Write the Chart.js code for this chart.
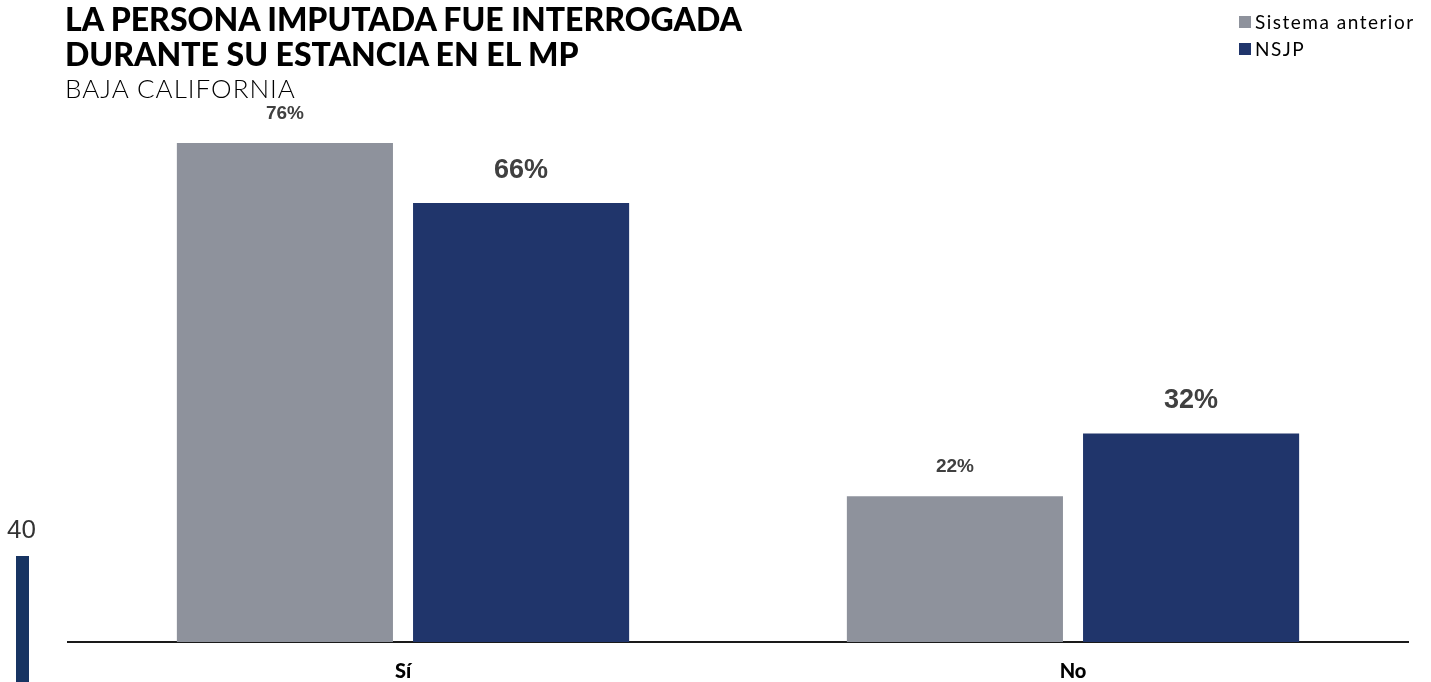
<!DOCTYPE html>
<html>
<head>
<meta charset="utf-8">
<script src="https://cdn.jsdelivr.net/npm/chart.js@4.4.1/dist/chart.umd.min.js"></script>
<style>
  html, body { margin: 0; padding: 0; background: #ffffff; }
  body { width: 1431px; height: 682px; position: relative; overflow: hidden; font-family: Lato, sans-serif; }
  #wrap { position: absolute; left: 0; top: 0; width: 1431px; height: 702px; }
  .title { position: absolute; left: 65px; top: 1px; font-family: Lato; font-weight: 900; font-size: 32px; line-height: 35px; color: #000; letter-spacing: 0px; }
  .subtitle { position: absolute; left: 65px; top: 73px; font-family: Lato; font-weight: 300; font-size: 26px; line-height: 30px; color: #000; letter-spacing: 1px; }
  .legend { position: absolute; left: 1239px; top: 8px; font-family: Lato; font-size: 19px; color: #000; }
  .legend div { height: 27px; line-height: 22px; display: flex; align-items: center; letter-spacing: 1.5px; }
  .legend span.box { display: inline-block; width: 12px; height: 12px; margin-right: 4px; }
  .pagenum { position: absolute; left: 7px; top: 514px; font-family: "Liberation Sans"; font-size: 26px; color: #333; }
  .pagebar { position: absolute; left: 16px; top: 556px; width: 13px; height: 126px; background: #173462; }
</style>
</head>
<body>
<div id="wrap"><canvas id="c" width="1431" height="702"></canvas></div>
<div class="title">LA PERSONA IMPUTADA FUE INTERROGADA<br>DURANTE SU ESTANCIA EN EL MP</div>
<div class="subtitle">BAJA CALIFORNIA</div>
<div class="legend" id="legend"></div>
<div class="pagenum">40</div>
<div class="pagebar"></div>
<script>
const categories = ["Sí", "No"];
const seriesNames = ["Sistema anterior", "NSJP"];
const sistemaAnterior = [75.6, 22.1];
const nsjp = [66.5, 31.6];
const valueLabels = [["76%", "22%"], ["66%", "32%"]];
const colors = ["#8E929C", "#20356B"];

const legendEl = document.getElementById('legend');
seriesNames.forEach((n, i) => {
  const d = document.createElement('div');
  d.innerHTML = '<span class="box" style="background:' + colors[i] + '"></span>' + n;
  legendEl.appendChild(d);
});

const labelSizes = [19, 27];
const labelOffsets = [29, 33];
const dataLabels = {
  id: 'dataLabels',
  afterDatasetsDraw(chart) {
    const ctx = chart.ctx;
    ctx.save();
    chart.data.datasets.forEach((ds, di) => {
      const meta = chart.getDatasetMeta(di);
      meta.data.forEach((bar, i) => {
        ctx.font = 'bold ' + labelSizes[di] + 'px "Liberation Sans", Arial, sans-serif';
        ctx.fillStyle = '#404040';
        ctx.textAlign = 'center';
        ctx.textBaseline = 'middle';
        ctx.fillText(valueLabels[di][i], bar.x, bar.y - labelOffsets[di]);
      });
    });
    ctx.restore();
  }
};

new Chart(document.getElementById('c'), {
  type: 'bar',
  data: {
    labels: categories,
    datasets: [
      { label: seriesNames[0], data: sistemaAnterior, backgroundColor: colors[0], categoryPercentage: 0.705, barPercentage: 0.915 },
      { label: seriesNames[1], data: nsjp, backgroundColor: colors[1], categoryPercentage: 0.705, barPercentage: 0.915 }
    ]
  },
  options: {
    responsive: false,
    animation: false,
    layout: { padding: { left: 68, right: 23, top: 114, bottom: 0 } },
    plugins: { legend: { display: false }, tooltip: { enabled: false }, title: { display: false } },
    scales: {
      y: { display: false, min: 0, max: 80 },
      x: {
        grid: { display: false, drawTicks: false },
        border: { display: true, color: '#1a1a1a', width: 2 },
        ticks: { color: '#000', font: { family: 'Lato', weight: '900', size: 20 }, padding: 18 }
      }
    }
  },
  plugins: [dataLabels]
});
</script>
</body>
</html>
